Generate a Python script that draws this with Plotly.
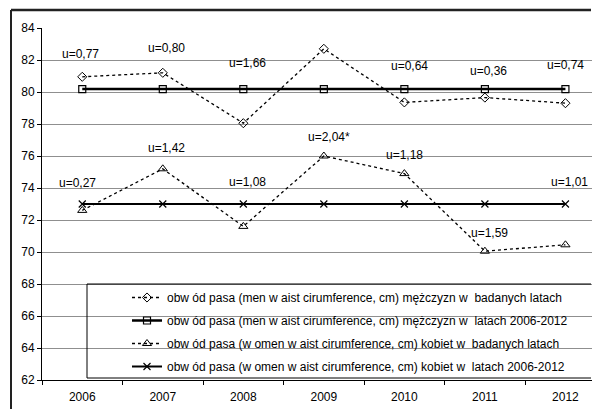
import plotly.graph_objects as go

years = ["2006", "2007", "2008", "2009", "2010", "2011", "2012"]

# waist circumference, cm
men_yearly = [80.95, 81.2, 78.05, 82.7, 79.35, 79.65, 79.3]
men_overall = [80.18] * 7
women_yearly = [72.6, 75.2, 71.6, 76.0, 74.9, 70.05, 70.45]
women_overall = [73.0] * 7

# u-statistics labels: (text, x offset from category, y position)
men_u_text = ["u=0,77", "u=0,80", "u=1,66", "u=1,86", "u=0,64", "u=0,36", "u=0,74"]
men_u_x = [-0.02, 0.05, 0.05, 0.0, 0.06, 0.04, 0.0]
men_u_y = [82.4, 82.75, 81.8, 84.05, 81.6, 81.3, 81.7]
women_u_text = ["u=0,27", "u=1,42", "u=1,08", "u=2,04*", "u=1,18", "u=1,59", "u=1,01"]
women_u_x = [-0.06, 0.05, 0.05, 0.06, 0.0, 0.06, 0.05]
women_u_y = [74.3, 76.5, 74.4, 77.2, 76.05, 71.2, 74.4]

names = [
    "obw ód pasa (men w aist cirumference, cm) mężczyzn w  badanych latach",
    "obw ód pasa (men w aist cirumference, cm) mężczyzn w  latach 2006-2012",
    "obw ód pasa (w omen w aist cirumference, cm) kobiet w  badanych latach",
    "obw ód pasa (w omen w aist cirumference, cm) kobiet w  latach 2006-2012",
]

font_family = "Liberation Sans, Arial, sans-serif"

fig = go.Figure()
fig.add_trace(go.Scatter(
    x=years, y=men_yearly, name=names[0], legendgroup="a",
    mode="lines+markers",
    line=dict(color="black", width=1.3, dash="dot"),
    marker=dict(symbol="diamond-open", size=7, color="black", line=dict(width=1)),
))
fig.add_trace(go.Scatter(
    x=years, y=men_overall, name=names[1], legendgroup="b",
    mode="lines+markers",
    line=dict(color="black", width=2.5),
    marker=dict(symbol="square-open", size=7, color="black", line=dict(width=1.2)),
))
fig.add_trace(go.Scatter(
    x=years, y=women_yearly, name=names[2], legendgroup="c",
    mode="lines+markers",
    line=dict(color="black", width=1.3, dash="dot"),
    marker=dict(symbol="triangle-up-open", size=8, color="black", line=dict(width=1)),
))
fig.add_trace(go.Scatter(
    x=years, y=women_overall, name=names[3], legendgroup="d",
    mode="lines+markers",
    line=dict(color="black", width=2),
    marker=dict(symbol="x-thin-open", size=7, color="black", line=dict(width=1.2)),
))

annotations = []
for i, (txt, dx, yy) in enumerate(zip(men_u_text, men_u_x, men_u_y)):
    annotations.append(dict(x=i + dx, y=yy, text=txt, showarrow=False,
                            xref="x", yref="y", font=dict(size=12, color="black")))
for i, (txt, dx, yy) in enumerate(zip(women_u_text, women_u_x, women_u_y)):
    annotations.append(dict(x=i + dx, y=yy, text=txt, showarrow=False,
                            xref="x", yref="y", font=dict(size=12, color="black")))

W, H = 592, 410
ml, mt, mb = 42, 28, 30
pw, ph = W - ml, H - mt - mb


def px_x(p):
    return (p - ml) / pw


def px_y(p):
    return (H - mb - p) / ph


shapes = [
    # legend frame (open on the right, where it runs off the figure)
    dict(type="line", xref="paper", yref="paper",
         x0=px_x(87), x1=px_x(591), y0=px_y(284), y1=px_y(284),
         line=dict(color="black", width=1)),
    dict(type="line", xref="paper", yref="paper",
         x0=px_x(87), x1=px_x(591), y0=px_y(378), y1=px_y(378),
         line=dict(color="black", width=1)),
    dict(type="line", xref="paper", yref="paper",
         x0=px_x(87), x1=px_x(87), y0=px_y(284), y1=px_y(378),
         line=dict(color="black", width=1)),
    # outer chart frame: top and left edges
    dict(type="line", xref="paper", yref="paper",
         x0=px_x(11), x1=px_x(591), y0=px_y(10), y1=px_y(10),
         line=dict(color="#222222", width=2.5)),
    dict(type="line", xref="paper", yref="paper",
         x0=px_x(11), x1=px_x(11), y0=px_y(10), y1=px_y(409),
         line=dict(color="#222222", width=2)),
]

fig.update_layout(
    width=W, height=H,
    margin=dict(l=ml, r=0, t=mt, b=mb),
    paper_bgcolor="white", plot_bgcolor="white",
    font=dict(family=font_family, size=12, color="black"),
    showlegend=True,
    legend=dict(
        x=px_x(127), y=px_y(283), xanchor="left", yanchor="top",
        bgcolor="rgba(0,0,0,0)", borderwidth=0,
        font=dict(size=12), tracegroupgap=4, traceorder="grouped",
    ),
    annotations=annotations,
    shapes=shapes,
    xaxis=dict(
        type="category", range=[-0.5, 6.33], tickson="boundaries",
        ticks="outside", ticklen=4, tickcolor="black",
        showline=True, linecolor="black", linewidth=1,
        showgrid=False, zeroline=False,
        tickfont=dict(size=12), ticklabelstandoff=6,
    ),
    yaxis=dict(
        range=[62, 84], dtick=2, tick0=62,
        ticks="outside", ticklen=4, tickcolor="black",
        showline=True, linecolor="black", linewidth=1,
        showgrid=True, gridcolor="#8f8f8f", gridwidth=1,
        zeroline=False, tickfont=dict(size=12),
    ),
)

fig.write_html("out.html")
